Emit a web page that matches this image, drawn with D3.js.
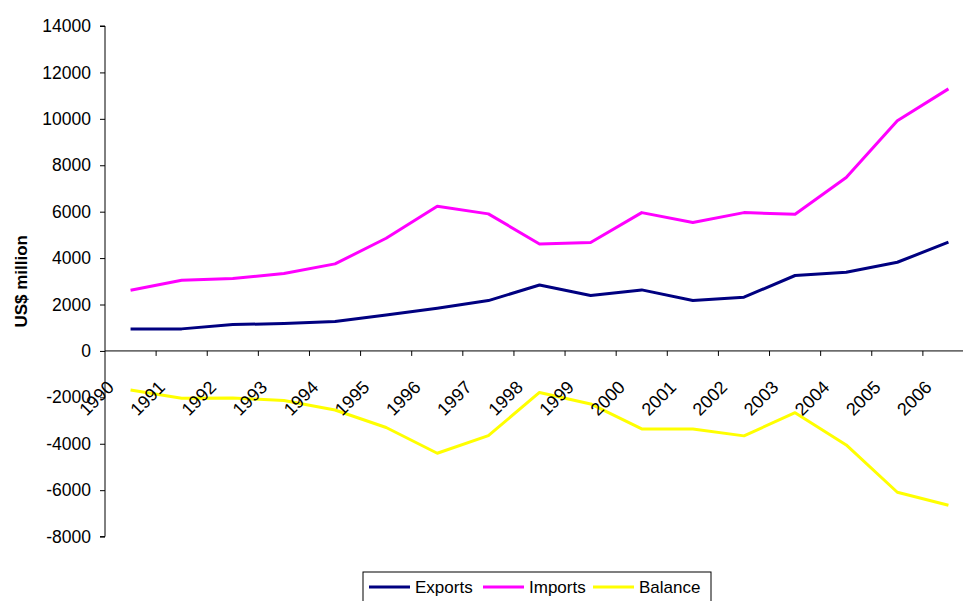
<!DOCTYPE html>
<html>
<head>
<meta charset="utf-8">
<script src="https://cdn.jsdelivr.net/npm/d3@7"></script>
<style>
  body { margin: 0; background: #fff; }
  svg { display: block; font-family: Arial, "Liberation Sans", sans-serif; }
</style>
</head>
<body>
<script>
let years = ["1990", "1991", "1992", "1993", "1994", "1995", "1996", "1997", "1998",
  "1999", "2000", "2001", "2002", "2003", "2004", "2005", "2006"];
let exportsVals = [950, 950, 1135, 1180, 1265, 1550, 1840, 2170, 2840,
  2385, 2630, 2170, 2315, 3250, 3390, 3820, 4685];
let importsVals = [2615, 3045, 3120, 3335, 3750, 4855, 6235, 5905, 4610,
  4670, 5960, 5530, 5960, 5890, 7470, 9915, 11290];
let balanceVals = [-1680, -2040, -2030, -2140, -2545, -3300, -4410, -3650, -1790,
  -2285, -3360, -3360, -3660, -2660, -4050, -6090, -6650];
let yTicks = [-8000, -6000, -4000, -2000, 0, 2000, 4000, 6000, 8000, 10000, 12000, 14000];

let series = [
  { name: "Exports", values: exportsVals, color: "#000080" },
  { name: "Imports", values: importsVals, color: "#ff00ff" },
  { name: "Balance", values: balanceVals, color: "#ffff00" }
];

let width = 963;
let height = 601;
let svg = d3.select("body").append("svg")
  .attr("width", width)
  .attr("height", height);

// plot runs past the right edge, like the original
let x = d3.scaleBand().domain(years).range([105, 974]);
let y = d3.scaleLinear().domain([-8000, 14000]).range([536.6, 26]);

// y axis
let yAxis = svg.append("g")
  .attr("transform", "translate(105,0)")
  .call(d3.axisLeft(y).tickValues(yTicks).tickSize(5).tickPadding(9).tickFormat((d) => String(d)));
yAxis.select(".domain").attr("stroke", "#000").attr("d", `M-5,${y(-8000)}H0V${y(14000)}H-5`);
yAxis.selectAll(".tick line").attr("stroke", "#000");
yAxis.selectAll(".tick text")
  .style("font-size", "17.5px")
  .attr("fill", "#000");

svg.append("text")
  .attr("transform", `translate(27,${(y(14000) + y(-8000)) / 2}) rotate(-90)`)
  .attr("text-anchor", "middle")
  .style("font-size", "17px")
  .style("font-weight", "bold")
  .text("US$ million");

// x axis at zero
let xAxisG = svg.append("g").attr("transform", `translate(0,${y(0)})`);
xAxisG.append("line")
  .attr("x1", x.range()[0]).attr("x2", x.range()[1])
  .attr("stroke", "#000");
xAxisG.selectAll(".tk")
  .data(years.slice(1))
  .join("line")
  .attr("x1", (d) => x(d)).attr("x2", (d) => x(d))
  .attr("y1", 0).attr("y2", 5)
  .attr("stroke", "#000");

// lines
let line = d3.line()
  .x((d, i) => x(years[i]) + x.bandwidth() / 2)
  .y((d) => y(d));

svg.selectAll(".series")
  .data(series)
  .join("path")
  .attr("fill", "none")
  .attr("stroke", (d) => d.color)
  .attr("stroke-width", 3)
  .attr("stroke-linejoin", "round")
  .attr("d", (d) => line(d.values));

// year labels sit on top of the lines
svg.append("g").attr("transform", `translate(0,${y(0)})`)
  .selectAll(".lbl")
  .data(years)
  .join("text")
  .attr("transform", (d) => `translate(${x(d) + x.bandwidth() / 2 - 20},33) rotate(-45)`)
  .attr("text-anchor", "end")
  .attr("dy", "0.35em")
  .style("font-size", "18px")
  .text((d) => d);

// legend
let legend = svg.append("g").attr("transform", "translate(363,572)");
legend.append("rect")
  .attr("x", 0).attr("y", 0)
  .attr("width", 348).attr("height", 40)
  .attr("fill", "#fff")
  .attr("stroke", "#000");
let legX = [6, 120, 230];
let items = legend.selectAll(".item")
  .data(series)
  .join("g")
  .attr("transform", (d, i) => `translate(${legX[i]},15)`);
items.append("line")
  .attr("x1", 0).attr("x2", 41)
  .attr("stroke", (d) => d.color)
  .attr("stroke-width", 3);
items.append("text")
  .attr("x", 46)
  .attr("dy", "0.35em")
  .style("font-size", "17px")
  .text((d) => d.name);
</script>
</body>
</html>
